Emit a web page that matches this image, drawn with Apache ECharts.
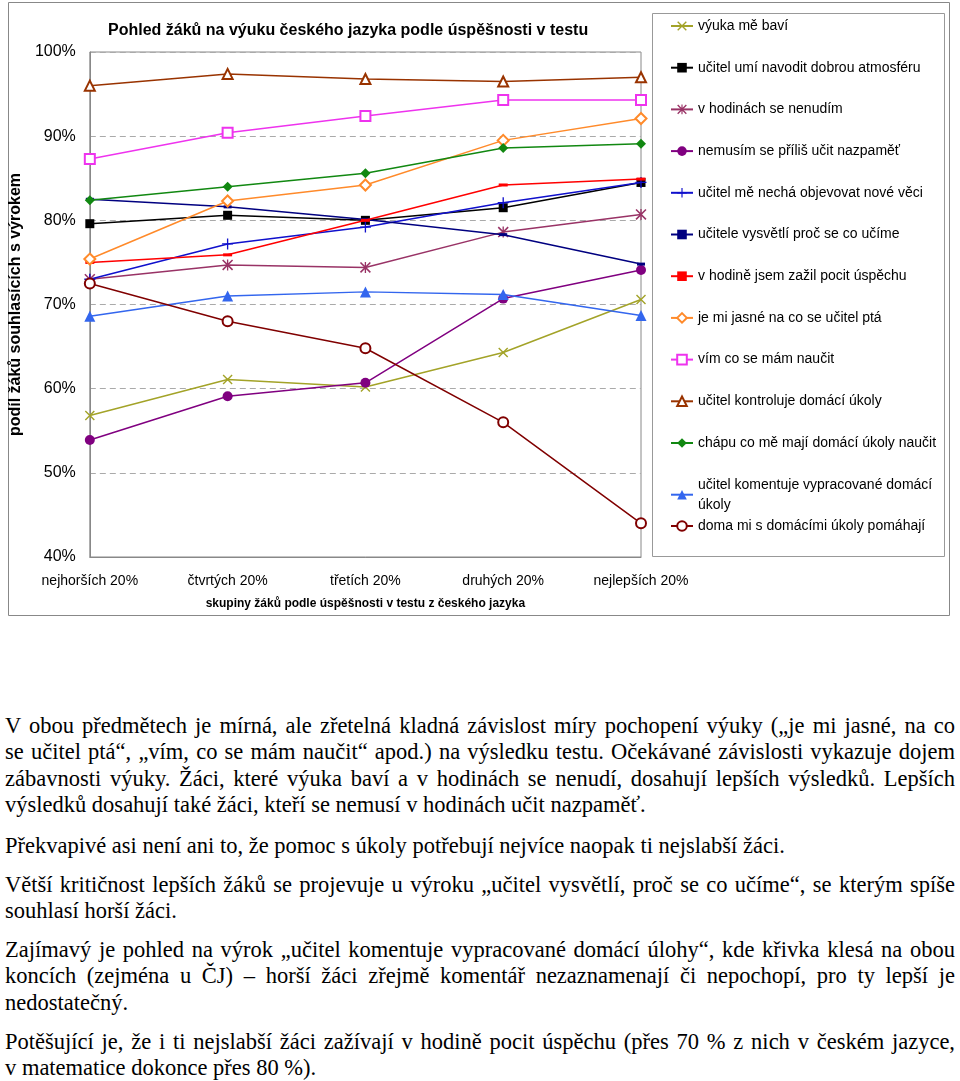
<!DOCTYPE html>
<html>
<head>
<meta charset="utf-8">
<script src="https://cdn.jsdelivr.net/npm/echarts@6/dist/echarts.min.js"></script>
<style>
  html, body { margin: 0; padding: 0; background: #fff; }
  #chart { position: absolute; left: 0; top: 0; width: 960px; height: 620px; }
  .ln { position: absolute; left: 5px; width: 950px; height: 26px; line-height: 26px;
        font-family: "Liberation Serif", "Times New Roman", serif; font-size: 22.5px; color: #000;
        white-space: nowrap; overflow: visible; transform-origin: 0 50%; }
  .j { text-align: justify; text-align-last: justify; }
  .probe { position: absolute; visibility: hidden; white-space: nowrap;
        font-family: "Liberation Serif", "Times New Roman", serif; font-size: 22.5px; }
</style>
</head>
<body>
<div id="chart"></div>
<div id="text"></div>
<script>
// ---- data ----
const categories = ['nejhorších 20%', 'čtvrtých 20%', 'třetích 20%', 'druhých 20%', 'nejlepších 20%'];
const seriesNames = [
  'výuka mě baví',
  'učitel umí navodit dobrou atmosféru',
  'v hodinách se nenudím',
  'nemusím se příliš učit nazpaměť',
  'učitel mě nechá objevovat nové věci',
  'učitele vysvětlí proč se co učíme',
  'v hodině jsem zažil pocit úspěchu',
  'je mi jasné na co se učitel ptá',
  'vím co se mám naučit',
  'učitel kontroluje domácí úkoly',
  'chápu co mě mají domácí úkoly naučit',
  'učitel komentuje vypracované domácí úkoly',
  'doma mi s domácími úkoly pomáhají'
];
const vyukaBavi    = [56.8, 61.1, 60.2, 64.3, 70.6];
const atmosfera    = [79.6, 80.6, 80.0, 81.5, 84.5];
const nenudim      = [73.0, 74.7, 74.4, 78.6, 80.7];
const nazpamet     = [53.9, 59.1, 60.7, 70.7, 74.1];
const objevovat    = [73.0, 77.2, 79.2, 82.1, 84.5];
const vysvetli     = [82.5, 81.6, 80.1, 78.3, 74.8];
const uspech       = [75.0, 75.9, 80.0, 84.2, 84.9];
const jasne        = [75.4, 82.3, 84.2, 89.5, 92.1];
const vim          = [87.3, 90.4, 92.4, 94.3, 94.3];
const kontroluje   = [96.0, 97.4, 96.8, 96.5, 97.0];
const chapu        = [82.4, 84.0, 85.6, 88.6, 89.1];
const komentuje    = [68.6, 71.0, 71.5, 71.2, 68.7];
const doma         = [72.5, 68.0, 64.8, 56.0, 44.0];
const yTicks = [40, 50, 60, 70, 80, 90, 100];

const chartTitle = 'Pohled žáků na výuku českého jazyka podle úspěšnosti v testu';
const yName = 'podíl žáků souhlasících s výrokem';
const xName = 'skupiny žáků podle úspěšnosti v testu z českého jazyka';

const paragraphs = [
  { top: 726, j: true,  t: 'V obou předmětech je mírná, ale zřetelná kladná závislost míry pochopení výuky („je mi jasné, na co' },
  { top: 752, j: true,  t: 'se učitel ptá“, „vím, co se mám naučit“ apod.) na výsledku testu. Očekávané závislosti vykazuje dojem' },
  { top: 779, j: true,  t: 'zábavnosti výuky. Žáci, které výuka baví a v hodinách se nenudí, dosahují lepších výsledků. Lepších' },
  { top: 805, j: false, t: 'výsledků dosahují také žáci, kteří se nemusí v hodinách učit nazpaměť.' },
  { top: 846, j: false, t: 'Překvapivé asi není ani to, že pomoc s úkoly potřebují nejvíce naopak ti nejslabší žáci.' },
  { top: 885, j: true,  t: 'Větší kritičnost lepších žáků se projevuje u výroku „učitel vysvětlí, proč se co učíme“, se kterým spíše' },
  { top: 911, j: false, t: 'souhlasí horší žáci.' },
  { top: 950, j: true,  t: 'Zajímavý je pohled na výrok „učitel komentuje vypracované domácí úlohy“, kde křivka klesá na obou' },
  { top: 976, j: true,  t: 'koncích  (zejména u ČJ) – horší žáci zřejmě komentář nezaznamenají či nepochopí, pro ty lepší je' },
  { top: 1003, j: false, t: 'nedostatečný.' },
  { top: 1042, j: true, t: 'Potěšující je, že i ti nejslabší žáci zažívají v hodině pocit úspěchu (přes 70 % z nich v českém jazyce,' },
  { top: 1068, j: false, t: 'v matematice dokonce přes 80 %).' }
];

// ---- text below chart ----
const textHost = document.getElementById('text');
const LINE_W = 950;
paragraphs.forEach(p => {
  const probe = document.createElement('span');
  probe.className = 'probe';
  probe.textContent = p.t;
  document.body.appendChild(probe);
  const natural = probe.getBoundingClientRect().width;
  probe.remove();
  const d = document.createElement('div');
  d.className = 'ln';
  d.style.top = (p.top - 13) + 'px';
  d.textContent = p.t;
  if (natural > LINE_W) {
    d.style.width = natural + 'px';
    d.style.transform = 'scaleX(' + (LINE_W / natural) + ')';
  } else if (p.j) {
    d.classList.add('j');
    d.style.whiteSpace = 'normal';
  }
  textHost.appendChild(d);
});

// ---- symbols ----
const X_PATH = 'path://M0,1L1,0L10,9L9,10Z M9,0L10,1L1,10L0,9Z';
const STAR_PATH = 'path://M0,1L1,0L10,9L9,10Z M9,0L10,1L1,10L0,9Z M4.4,0L5.6,0L5.6,10L4.4,10Z';
const PLUS_PATH = 'path://M4.4,0H5.6V10H4.4Z M0,4.4H10V5.6H0Z';

const styles = [
  { data: vyukaBavi,  color: '#A3A328', symbol: X_PATH,          size: 10 },
  { data: atmosfera,  color: '#000000', symbol: 'rect',          size: 9 },
  { data: nenudim,    color: '#993366', symbol: STAR_PATH,       size: 11 },
  { data: nazpamet,   color: '#800080', symbol: 'circle',        size: 10 },
  { data: objevovat,  color: '#1010CC', symbol: PLUS_PATH,       size: 11 },
  { data: vysvetli,   color: '#000080', symbol: 'rect',          size: [8, 3] },
  { data: uspech,     color: '#FF0000', symbol: 'rect',          size: [9, 3] },
  { data: jasne,      color: '#FF8A2A', symbol: 'emptyDiamond',  size: 11 },
  { data: vim,        color: '#EE33EE', symbol: 'emptyRect',     size: 10 },
  { data: kontroluje, color: '#993300', symbol: 'emptyTriangle', size: 10 },
  { data: chapu,      color: '#118811', symbol: 'diamond',       size: 10 },
  { data: komentuje,  color: '#3366EE', symbol: 'triangle',      size: 11 },
  { data: doma,       color: '#800000', symbol: 'emptyCircle',   size: 10 }
];

const FONT = '"Liberation Sans", Arial, sans-serif';

const series = styles.map((s, i) => ({
  name: seriesNames[i],
  type: 'line',
  data: s.data,
  symbol: s.symbol,
  symbolSize: s.size,
  showAllSymbol: true,
  lineStyle: { color: s.color, width: 1.5 },
  itemStyle: { color: s.color, borderColor: s.color, borderWidth: s.symbol.indexOf('empty') === 0 ? 1.3 : 0 },
  emphasis: { disabled: true },
  z: 2 + i
}));

const legendText = { fontFamily: FONT, fontSize: 14, color: '#000', lineHeight: 20 };

const option = {
  animation: false,
  backgroundColor: '#fff',
  title: {
    text: chartTitle,
    left: 108, top: 23,
    padding: 0,
    textStyle: { fontFamily: FONT, fontSize: 16, fontWeight: 'bold', color: '#000' }
  },
  grid: { left: 88, top: 52, right: 319, bottom: 63, show: true, borderColor: '#888', borderWidth: 1, backgroundColor: 'transparent' },
  legend: [
    {
      data: seriesNames.slice(0, 12),
      orient: 'vertical', left: 670, top: 16, padding: 0,
      itemWidth: 22, itemHeight: 12, itemGap: 21.7,
      textStyle: legendText,
      formatter: n => n === 'učitel komentuje vypracované domácí úkoly' ? 'učitel komentuje vypracované domácí\núkoly' : n,
      selectedMode: false
    },
    {
      data: seriesNames.slice(12),
      orient: 'vertical', left: 670, top: 516, padding: 0,
      itemWidth: 22, itemHeight: 12,
      textStyle: legendText,
      selectedMode: false
    }
  ],
  xAxis: {
    type: 'category',
    data: categories,
    boundaryGap: false,
    name: xName,
    nameLocation: 'middle',
    nameGap: 41,
    nameTextStyle: { fontFamily: FONT, fontSize: 12, fontWeight: 'bold', color: '#000' },
    axisLine: { lineStyle: { color: '#888', width: 1 } },
    axisTick: { show: false },
    axisLabel: { fontFamily: FONT, fontSize: 14, color: '#000', margin: 17, interval: 0 },
    splitLine: { show: false }
  },
  yAxis: {
    type: 'value',
    min: yTicks[0], max: yTicks[yTicks.length - 1], interval: 10,
    name: yName,
    nameLocation: 'middle',
    nameGap: 56,
    nameRotate: 90,
    nameTextStyle: { fontFamily: FONT, fontSize: 16, fontWeight: 'bold', color: '#000' },
    axisLine: { show: true, lineStyle: { color: '#888', width: 1 } },
    axisTick: { show: false },
    axisLabel: { fontFamily: FONT, fontSize: 16, color: '#000', margin: 14, formatter: '{value}%' },
    splitLine: { show: true, lineStyle: { color: '#AAA', type: [6, 4], width: 1 } }
  },
  graphic: [
    { type: 'rect', shape: { x: 8.5, y: 2.5, width: 941, height: 613 }, style: { fill: null, stroke: '#888', lineWidth: 1 }, silent: true, z: -10 },
    { type: 'rect', shape: { x: 652.5, y: 13.5, width: 292, height: 543 }, style: { fill: null, stroke: '#999', lineWidth: 1 }, silent: true, z: -10 }
  ],
  series: series
};

const chart = echarts.init(document.getElementById('chart'), null, { renderer: 'canvas' });
chart.setOption(option);
</script>
</body>
</html>
